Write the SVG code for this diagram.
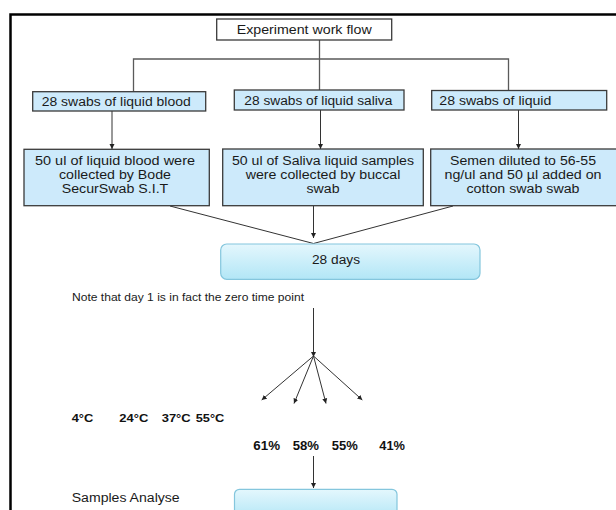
<svg xmlns="http://www.w3.org/2000/svg" width="616" height="510" viewBox="0 0 616 510">
<defs>
<style>
.t{font-family:"Liberation Sans",Arial,sans-serif;font-size:12.5px;fill:#1a1a1a}
.c{text-anchor:middle}
.b{font-weight:bold;font-size:11.5px;fill:#111}
.box{fill:#cdeafb;stroke:#3a3a3a;stroke-width:1.3}
.title{fill:#fff;stroke:#3a3a3a;stroke-width:1.3}
.rbox{fill:url(#g);stroke:#84c6dd;stroke-width:1.2}
.tree{stroke:#5a5a5a;stroke-width:1.3;fill:none}
.ln{stroke:#333;stroke-width:1;fill:none}
.arr{marker-end:url(#ah)}
</style>
<linearGradient id="g" x1="0" y1="0" x2="0" y2="1"><stop offset="0" stop-color="#e4f7fd"/><stop offset="1" stop-color="#b2e6f6"/></linearGradient>
<marker id="ah" markerWidth="6" markerHeight="6" refX="5" refY="3" orient="auto" markerUnits="userSpaceOnUse"><path d="M0,0.5 L5,3 L0,5.5 z" fill="#222"/></marker>
</defs>
<path d="M10.5,510 V14.5 H616" stroke="#000" stroke-width="2.5" fill="none"/>

<g id="connectors">
<path class="tree" d="M319.5,40 V90 M133.5,91.5 V59 H508.5 V90"/>
<path class="ln arr" d="M112,111 V149"/>
<path class="ln arr" d="M320.5,110 V149"/>
<path class="ln arr" d="M518.5,110 V149"/>
<path class="ln" d="M170,206 L313.5,243.5 L453,206"/>
<path class="ln arr" d="M313.5,206 V238"/>
<path class="ln arr" d="M313.5,308 V357"/>
<path class="ln arr" d="M313.5,356 L261.7,400"/>
<path class="ln arr" d="M313.5,356 L294,403.5"/>
<path class="ln arr" d="M313.5,356 L326,403.5"/>
<path class="ln arr" d="M313.5,356 L362.3,400"/>
<path class="ln arr" d="M313.5,456 V488"/>
</g>

<g id="title">
<rect class="title" x="216.7" y="19" width="175" height="21"/>
<text class="t c" x="304.2" y="33.5" textLength="135" lengthAdjust="spacingAndGlyphs">Experiment work flow</text>
</g>

<g id="blood-label">
<rect class="box" x="32.7" y="91.7" width="173" height="19.3"/>
<text class="t" x="41.7" y="106" textLength="149" lengthAdjust="spacingAndGlyphs">28 swabs of liquid blood</text>
</g>
<g id="saliva-label">
<rect class="box" x="234.3" y="90" width="169.7" height="20"/>
<text class="t" x="244.3" y="104.5" textLength="148" lengthAdjust="spacingAndGlyphs">28 swabs of liquid saliva</text>
</g>
<g id="liquid-label">
<rect class="box" x="431.7" y="90.5" width="175" height="19.5"/>
<text class="t" x="439.3" y="104.5" textLength="112" lengthAdjust="spacingAndGlyphs">28 swabs of liquid</text>
</g>

<g id="blood-desc">
<rect class="box" x="24" y="149.3" width="185.3" height="56.4"/>
<text class="t c" x="115" y="165" textLength="160" lengthAdjust="spacingAndGlyphs">50 ul of liquid blood were</text>
<text class="t c" x="115" y="179" textLength="112" lengthAdjust="spacingAndGlyphs">collected by Bode</text>
<text class="t c" x="115" y="193" textLength="106.5" lengthAdjust="spacingAndGlyphs">SecurSwab S.I.T</text>
</g>
<g id="saliva-desc">
<rect class="box" x="222.7" y="149" width="200.6" height="56.7"/>
<text class="t c" x="323" y="165" textLength="182" lengthAdjust="spacingAndGlyphs">50 ul of Saliva liquid samples</text>
<text class="t c" x="323" y="179" textLength="154.7" lengthAdjust="spacingAndGlyphs">were collected by buccal</text>
<text class="t c" x="323" y="193" textLength="33" lengthAdjust="spacingAndGlyphs">swab</text>
</g>
<g id="semen-desc">
<rect class="box" x="430.7" y="149" width="186" height="56.7"/>
<text class="t c" x="523" y="165" textLength="146" lengthAdjust="spacingAndGlyphs">Semen diluted to 56-55</text>
<text class="t c" x="523" y="179" textLength="157" lengthAdjust="spacingAndGlyphs">ng/ul and 50 µl added on</text>
<text class="t c" x="523" y="193" textLength="113" lengthAdjust="spacingAndGlyphs">cotton swab swab</text>
</g>

<g id="days">
<rect class="rbox" x="220.7" y="244" width="259.3" height="35.3" rx="6"/>
<text class="t c" x="336" y="263.5" textLength="48" lengthAdjust="spacingAndGlyphs">28 days</text>
</g>

<g id="note">
<text class="t" style="font-size:10.5px" x="72" y="301" textLength="232" lengthAdjust="spacingAndGlyphs">Note that day 1 is in fact the zero time point</text>
</g>

<g id="temps">
<text class="t b" x="71.7" y="421.5" textLength="21.6" lengthAdjust="spacingAndGlyphs">4°C</text>
<text class="t b" x="119.3" y="421.5" textLength="29" lengthAdjust="spacingAndGlyphs">24°C</text>
<text class="t b" x="161.7" y="421.5" textLength="29" lengthAdjust="spacingAndGlyphs">37°C</text>
<text class="t b" x="195.7" y="421.5" textLength="28.6" lengthAdjust="spacingAndGlyphs">55°C</text>
</g>

<g id="percents">
<text class="t b" style="font-size:12.5px" x="253.3" y="450" textLength="26.7" lengthAdjust="spacingAndGlyphs">61%</text>
<text class="t b" style="font-size:12.5px" x="292.7" y="450" textLength="26.3" lengthAdjust="spacingAndGlyphs">58%</text>
<text class="t b" style="font-size:12.5px" x="331.7" y="450" textLength="26" lengthAdjust="spacingAndGlyphs">55%</text>
<text class="t b" style="font-size:12.5px" x="379.3" y="450" textLength="25.7" lengthAdjust="spacingAndGlyphs">41%</text>
</g>

<g id="analyse">
<text class="t" style="font-size:12px" x="71.7" y="502.3" textLength="108" lengthAdjust="spacingAndGlyphs">Samples Analyse</text>
<rect class="rbox" x="234.5" y="489.3" width="162.5" height="30" rx="5"/>
</g>
</svg>
